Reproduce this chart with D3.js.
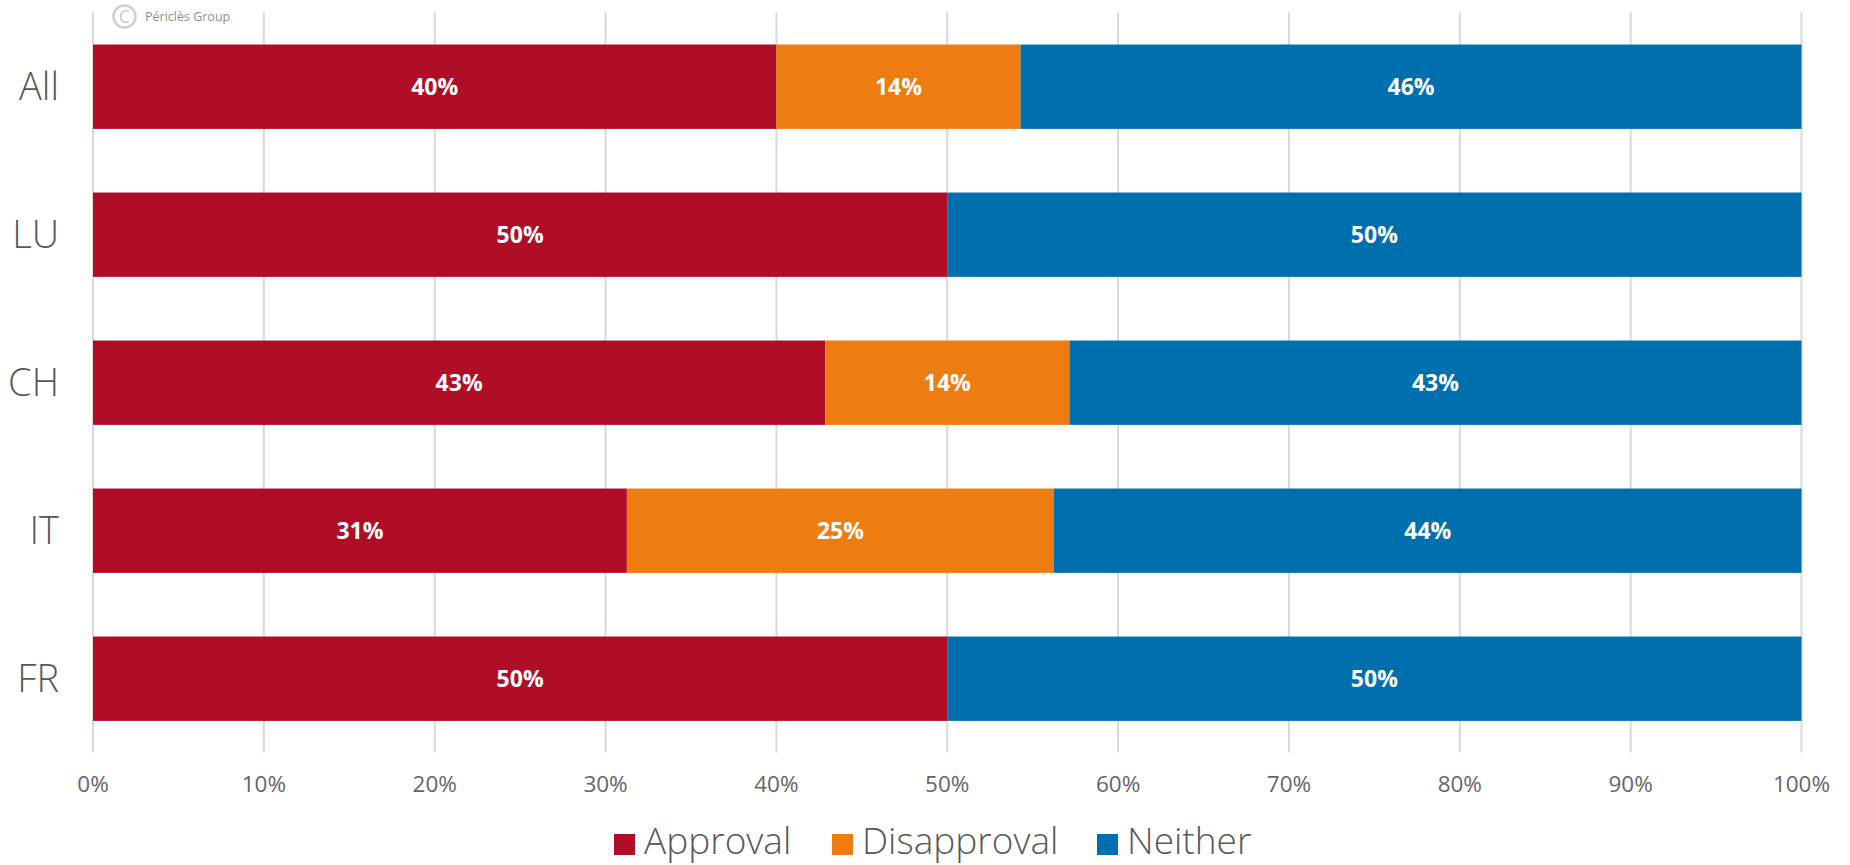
<!DOCTYPE html>
<html><head><meta charset="utf-8">
<script src="https://cdnjs.cloudflare.com/ajax/libs/d3/7.8.5/d3.min.js"></script>
<style>html,body{margin:0;padding:0;background:#fff;overflow:hidden}svg{display:block;font-family:"Open Sans",Lato,sans-serif}</style>
</head><body><svg id="c" width="1850" height="865"></svg>
<script>
const categories=["All","LU","CH","IT","FR"];
const seriesNames=["Approval","Disapproval","Neither"];
const approval=[40,50,42.86,31.25,50];
const disapproval=[14.29,0,14.29,25,0];
const neither=[45.71,50,42.85,43.75,50];
const colors=["#b00e26","#ee7d11","#006fae"];
const ticks=[0,10,20,30,40,50,60,70,80,90,100];

const svg=d3.select("#c");
const x=d3.scaleLinear().domain([0,100]).range([93,1801.5]);
const y=d3.scaleBand().domain(categories).range([12.7,752.7]).paddingInner(0.43).paddingOuter(0.215);
const rows=categories.map((c,i)=>({cat:c,Approval:approval[i],Disapproval:disapproval[i],Neither:neither[i]}));
const stacked=d3.stack().keys(seriesNames)(rows);

svg.append("g").selectAll("line").data(ticks).join("line")
  .attr("x1",d=>x(d)).attr("x2",d=>x(d)).attr("y1",12.5).attr("y2",752.5)
  .attr("stroke","#d9d9d9").attr("stroke-width",2);

const wm=svg.append("g");
wm.append("circle").attr("cx",124.5).attr("cy",16.5).attr("r",11).attr("fill","#fff").attr("stroke","#cfcfcf").attr("stroke-width",2.5);
wm.append("text").attr("x",124.5).attr("y",23).attr("text-anchor","middle").attr("font-size",18).attr("fill","#c8c8c8").text("C");
wm.append("text").attr("x",145).attr("y",21).attr("font-size",12.5).attr("fill","#8f8f8f").text("Périclès Group");

stacked.forEach((s,k)=>{
  const g=svg.append("g");
  g.selectAll("rect").data(s.filter(d=>d[1]-d[0]>0)).join("rect")
    .attr("x",d=>x(d[0])).attr("width",d=>x(d[1])-x(d[0]))
    .attr("y",d=>y(d.data.cat)).attr("height",y.bandwidth()).attr("fill",colors[k]);
  g.selectAll("text").data(s.filter(d=>d[1]-d[0]>0)).join("text")
    .attr("x",d=>x((d[0]+d[1])/2)).attr("y",d=>y(d.data.cat)+y.bandwidth()/2+8.5)
    .attr("text-anchor","middle").attr("font-size",23).attr("font-weight",700).attr("fill","#fff")
    .text(d=>Math.round(d[1]-d[0])+"%");
});

svg.append("g").selectAll("text").data(categories).join("text")
  .attr("x",59).attr("y",d=>y(d)+y.bandwidth()/2+13.5)
  .attr("text-anchor","end").attr("font-size",38).attr("font-weight",300).attr("fill","#595959").text(d=>d);

svg.append("g").selectAll("text").data(ticks).join("text")
  .attr("x",d=>x(d)).attr("y",792).attr("text-anchor","middle").attr("font-size",22.5).attr("font-weight",400).attr("fill","#666").text(d=>d+"%");

const legX=[614,832,1097];
const lg=svg.append("g").selectAll("g").data(seriesNames).join("g").attr("transform",(d,i)=>`translate(${legX[i]},834)`);
lg.append("rect").attr("width",21).attr("height",21).attr("fill",(d,i)=>colors[i]);
lg.append("text").attr("x",30).attr("y",20).attr("font-size",37).attr("font-weight",300).attr("fill","#595959").text(d=>d);
</script></body></html>
